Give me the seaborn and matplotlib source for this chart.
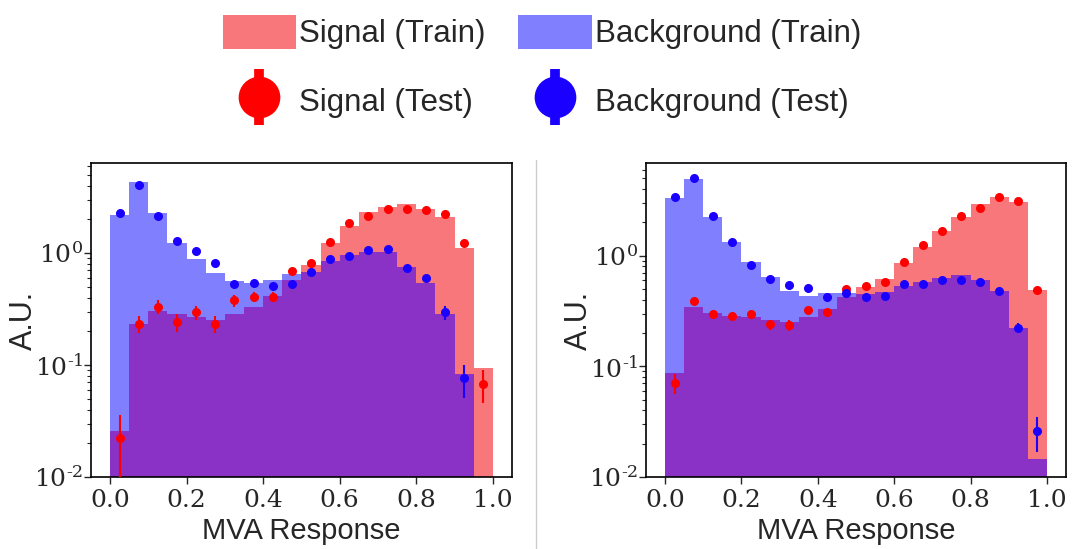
import numpy as np
import pandas as pd
import matplotlib
matplotlib.use("Agg")
import matplotlib.pyplot as plt
import seaborn as sns
from matplotlib.lines import Line2D
from matplotlib.patches import Patch
from matplotlib.ticker import FuncFormatter, LogLocator

# ---------------- data ----------------
n_bins = 20
bin_range = (0.0, 1.0)
bin_edges = np.linspace(bin_range[0], bin_range[1], n_bins + 1)
bin_centers = 0.5 * (bin_edges[:-1] + bin_edges[1:])

# left panel
left_sig_train = [0.026, 0.232, 0.303, 0.285, 0.270, 0.252, 0.283, 0.332, 0.416, 0.574,
                  0.79, 1.22, 1.74, 2.31, 2.59, 2.72, 2.45, 2.10, 1.12, 0.094]
left_bkg_train = [2.18, 4.33, 2.26, 1.22, 0.89, 0.667, 0.566, 0.536, 0.574, 0.645,
                  0.68, 0.85, 0.97, 1.03, 1.03, 0.755, 0.536, 0.283, 0.0826, 0.0]
left_sig_test = [0.0225, 0.234, 0.332, 0.240, 0.295, 0.234, 0.378, 0.407, 0.407, 0.69,
                 0.81, 1.25, 1.84, 2.14, 2.47, 2.45, 2.44, 2.22, 1.22, 0.0677]
left_sig_test_err = [0.013, 0.042, 0.048, 0.043, 0.045, 0.040, 0.045, 0.040, 0.040, 0.03,
                     0.03, 0.04, 0.05, 0.05, 0.06, 0.06, 0.06, 0.05, 0.04, 0.022]
left_bkg_test = [2.29, 4.07, 2.14, 1.29, 1.04, 0.81, 0.529, 0.540, 0.511, 0.532,
                 0.68, 0.877, 0.946, 1.07, 1.08, 0.739, 0.598, 0.295, 0.076, np.nan]
left_bkg_test_err = [0.05, 0.08, 0.05, 0.04, 0.03, 0.03, 0.03, 0.03, 0.03, 0.03,
                     0.03, 0.03, 0.03, 0.03, 0.03, 0.03, 0.03, 0.045, 0.025, np.nan]

# right panel
right_sig_train = [0.087, 0.347, 0.306, 0.287, 0.282, 0.263, 0.254, 0.278, 0.330, 0.421,
                   0.526, 0.616, 0.853, 1.19, 1.67, 2.22, 2.93, 3.41, 3.07, 0.490]
right_bkg_train = [3.34, 4.92, 2.25, 1.32, 0.883, 0.638, 0.483, 0.436, 0.464, 0.457,
                   0.451, 0.467, 0.532, 0.582, 0.625, 0.67, 0.604, 0.48, 0.224, 0.0145]
right_sig_test = [0.071, 0.390, 0.298, 0.284, 0.296, 0.240, 0.235, 0.324, 0.310, 0.501,
                  0.536, 0.579, 0.883, 1.24, 1.67, 2.30, 2.71, 3.39, 3.12, 0.490]
right_sig_test_err = [0.015, 0.02, 0.02, 0.02, 0.02, 0.025, 0.025, 0.02, 0.02, 0.02,
                      0.02, 0.02, 0.03, 0.04, 0.05, 0.06, 0.07, 0.08, 0.08, 0.02]
right_bkg_test = [3.41, 5.0, 2.30, 1.34, 0.819, 0.621, 0.548, 0.511, 0.421, 0.464,
                  0.421, 0.433, 0.556, 0.556, 0.604, 0.604, 0.579, 0.483, 0.224, 0.0258]
right_bkg_test_err = [0.08, 0.1, 0.05, 0.03, 0.02, 0.02, 0.02, 0.02, 0.02, 0.02,
                      0.02, 0.02, 0.02, 0.02, 0.02, 0.02, 0.02, 0.02, 0.02, 0.009]

labels = ["Signal (Train)", "Signal (Test)", "Background (Train)", "Background (Test)"]
x_ticks = [0.0, 0.2, 0.4, 0.6, 0.8, 1.0]
x_label = "MVA Response"
y_label = "A.U."

# ---------------- style ----------------
sns.set_style("ticks")
plt.rcParams["font.family"] = ["Liberation Sans", "DejaVu Sans"]
plt.rcParams["mathtext.fontset"] = "dejavuserif"
plt.rcParams["mathtext.default"] = "rm"

SIG_FILL = "#f7777a"
BKG_FILL = "#8080ff"
OVL_FILL = "#8a32c5"
SIG_PT = "#ff0000"
BKG_PT = "#1a00ff"

fig = plt.figure(figsize=(10.84, 5.49), dpi=100)
ax1 = fig.add_axes([0.0839, 0.1311, 0.3884, 0.5719])
ax2 = fig.add_axes([0.5959, 0.1311, 0.3875, 0.5719])


def log_label(v, p):
    e = int(round(np.log10(v)))
    if e < 0:
        return r"$10^{\text{-}%d}$" % (-e)
    return r"$10^{%d}$" % e


def draw_panel(ax, sig_train, bkg_train, sig_test, sig_err, bkg_test, bkg_err, ytop):
    sig_train = np.asarray(sig_train, dtype=float)
    bkg_train = np.asarray(bkg_train, dtype=float)
    overlap = np.minimum(sig_train, bkg_train)
    for w, c in [(sig_train, SIG_FILL), (bkg_train, BKG_FILL), (overlap, OVL_FILL)]:
        df = pd.DataFrame({"x": bin_centers, "w": w})
        sns.histplot(data=df, x="x", weights="w", bins=n_bins, binrange=bin_range,
                     element="step", fill=True, color=c, alpha=1.0, linewidth=0, ax=ax)
    ax.errorbar(bin_centers, sig_test, yerr=sig_err, fmt="o", color=SIG_PT,
                ms=5.5, elinewidth=1.5, capsize=0, zorder=5)
    ax.errorbar(bin_centers, bkg_test, yerr=bkg_err, fmt="o", color=BKG_PT,
                ms=5.5, elinewidth=1.5, capsize=0, zorder=6)
    ax.set_yscale("log")
    ax.set_xlim(-0.05, 1.05)
    ax.set_ylim(0.01, ytop)
    ax.set_xticks(x_ticks)
    ax.set_yticks([0.01, 0.1, 1.0])
    ax.yaxis.set_major_formatter(FuncFormatter(log_label))
    ax.yaxis.set_minor_locator(LogLocator(base=10, subs=np.arange(2, 10)))
    ax.xaxis.set_major_formatter(FuncFormatter(lambda v, p: "%.1f" % v))
    ax.tick_params(axis="both", which="major", labelsize=18, length=5, width=1, direction="out")
    ax.tick_params(axis="y", which="major", pad=0.5)
    ax.tick_params(axis="y", which="minor", length=3, width=0.8)
    ax.set_xlabel(x_label, fontsize=21, labelpad=4)
    ax.set_ylabel(y_label, fontsize=22)
    ax.yaxis.set_label_coords(-0.124, 0.5)
    for s in ax.spines.values():
        s.set_color("black")
        s.set_linewidth(1.2)
        s.set_visible(True)


draw_panel(ax1, left_sig_train, left_bkg_train, left_sig_test, left_sig_test_err,
           left_bkg_test, left_bkg_test_err, 6.36)
draw_panel(ax2, right_sig_train, right_bkg_train, right_sig_test, right_sig_test_err,
           right_bkg_test, right_bkg_test_err, 6.87)

for ax in (ax1, ax2):
    ax.tick_params(axis="x", labelfontfamily="DejaVu Serif")

# divider line between panels
fig.add_artist(Line2D([0.4945, 0.4945], [0.0, 0.7086], transform=fig.transFigure,
                      color="#cccccc", lw=1))

# legend
h_sig_train = Patch(facecolor=SIG_FILL, edgecolor="none")
h_bkg_train = Patch(facecolor=BKG_FILL, edgecolor="none")
h_sig_test = (Line2D([], [], color=SIG_PT, marker="|", ms=41, mew=7, ls=""),
              Line2D([], [], color=SIG_PT, marker="o", ms=29, ls=""))
h_bkg_test = (Line2D([], [], color=BKG_PT, marker="|", ms=41, mew=7, ls=""),
              Line2D([], [], color=BKG_PT, marker="o", ms=29, ls=""))
fig.legend([h_sig_train, h_sig_test, h_bkg_train, h_bkg_test], labels,
           loc="upper center", bbox_to_anchor=(0.5, 0.99), ncol=2, frameon=False,
           prop={"family": "Liberation Sans", "size": 22.5},
           handlelength=2.35, handleheight=1.3, handletextpad=0.1,
           columnspacing=1.05, labelspacing=1.1, borderpad=0.3, borderaxespad=0.0)

fig.savefig("out.png", dpi=100)
